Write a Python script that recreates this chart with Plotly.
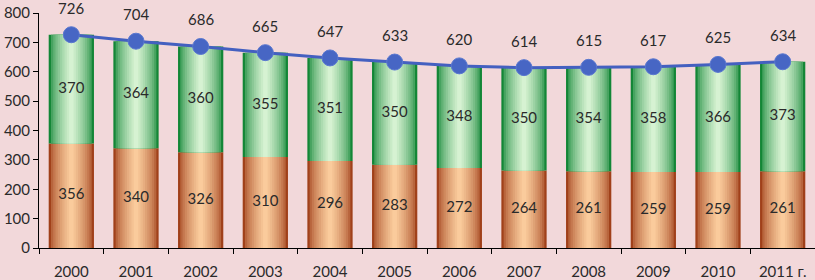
import plotly.graph_objects as go

years = ["2000", "2001", "2002", "2003", "2004", "2005", "2006", "2007", "2008", "2009", "2010", "2011 г."]
lower = [356, 340, 326, 310, 296, 283, 272, 264, 261, 259, 259, 261]
upper = [370, 364, 360, 355, 351, 350, 348, 350, 354, 358, 366, 373]
total = [726, 704, 686, 665, 647, 633, 620, 614, 615, 617, 625, 634]
y_ticks = [0, 100, 200, 300, 400, 500, 600, 700, 800]

FONT = "Lato, 'Open Sans', sans-serif"
BG = "#F2D8DA"
BAR_W = 0.70
N = 10

def mix(c1, c2, t):
    a = [int(c1[i:i + 2], 16) for i in (1, 3, 5)]
    b = [int(c2[i:i + 2], 16) for i in (1, 3, 5)]
    return "rgb(%d,%d,%d)" % tuple(round(a[j] + (b[j] - a[j]) * t) for j in range(3))

fig = go.Figure()

def gradient_bars(vals, base, dark, light):
    for k in range(N):
        t = (k / (N - 1)) ** 0.6
        w = BAR_W * (1 - k / N)
        fig.add_trace(go.Bar(
            x=years, y=vals, base=base, width=w,
            marker=dict(color=mix(dark, light, t), line=dict(width=0)),
            hoverinfo="skip", showlegend=False,
        ))

gradient_bars(lower, None, "#A0401A", "#FACB9C")
gradient_bars(upper, lower, "#138636", "#D6F2D2")

# segment labels
fig.add_trace(go.Scatter(
    x=years, y=[l / 2 for l in lower], mode="text",
    text=[str(v) for v in lower],
    textfont=dict(family=FONT, size=15, color="#2a2a2a"),
    showlegend=False, hoverinfo="skip",
))
fig.add_trace(go.Scatter(
    x=years, y=[l + u / 2 for l, u in zip(lower, upper)], mode="text",
    text=[str(v) for v in upper],
    textfont=dict(family=FONT, size=15, color="#2a2a2a"),
    showlegend=False, hoverinfo="skip",
))

# total line
fig.add_trace(go.Scatter(
    x=years, y=total, mode="lines+markers",
    line=dict(color="#4460C0", width=3),
    marker=dict(size=16, color="#4766C4", line=dict(color="#5a78d0", width=1)),
    showlegend=False, cliponaxis=False,
))

for i, v in enumerate(total):
    fig.add_annotation(x=i, y=v, text=str(v), showarrow=False, yshift=27,
                       font=dict(family=FONT, size=15, color="#2a2a2a"))

fig.update_layout(
    width=815, height=280,
    margin=dict(l=39, r=0, t=13, b=32),
    paper_bgcolor=BG, plot_bgcolor=BG,
    barmode="overlay",
    font=dict(family=FONT, size=15, color="#2a2a2a"),
)
fig.update_xaxes(
    type="category", range=[-0.5, len(years) - 0.5], automargin=False,
    showline=True, linecolor="#000", linewidth=1,
    ticks="outside", ticklen=5, tickcolor="#000", tickson="boundaries",
    showgrid=False, tickfont=dict(family=FONT, size=15), tickangle=0,
    ticklabelstandoff=10,
)
fig.update_yaxes(
    range=[0, 800], tickvals=y_ticks, automargin=False,
    showline=True, linecolor="#000", linewidth=1,
    ticks="outside", ticklen=5, tickcolor="#000",
    showgrid=False, zeroline=False, tickfont=dict(family=FONT, size=15),
)

fig.write_html(
    "out.html",
    config={"displayModeBar": False},
    post_script="document.body.style.margin='0';document.body.style.overflow='hidden';",
)
